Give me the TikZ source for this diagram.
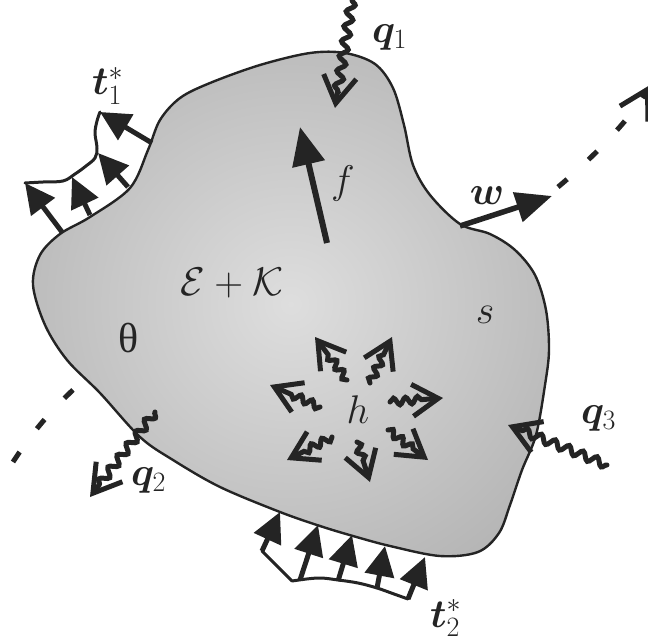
\RequirePackage{fix-cm}
\documentclass[tikz,border=0pt]{standalone}
\usepackage{amsmath}
\usepackage{bm}
\usepackage{fontspec}
\newfontfamily\grkfont{Liberation Serif}
\usetikzlibrary{arrows.meta,decorations.pathmorphing}
\definecolor{blobin}{gray}{0.87}
\definecolor{blobout}{gray}{0.61}
\definecolor{ink}{gray}{0.14}
\pgfdeclareradialshading{blobshade}{\pgfpoint{0bp}{0bp}}{color(0bp)=(blobin); color(50bp)=(blobout); color(75bp)=(blobout)}
\begin{document}
\begin{tikzpicture}[x=1pt,y=-1pt,
  every node/.style={inner sep=0pt, outer sep=0pt, text=ink, font=\fontsize{40}{48}\selectfont},
  tract/.style={draw=ink, line width=5pt, -{Triangle[length=30pt,width=29pt]}},
  bigarrow/.style={draw=ink, line width=6pt, -{Triangle[length=38pt,width=32pt]}},
  loadline/.style={draw=ink, line width=3pt, line join=round, line cap=round},
  heat/.style={draw=ink, line width=5pt, line cap=round, decorate,
     decoration={snake, amplitude=4pt, segment length=15pt, post length=14pt},
     -{Straight Barb[length=27pt,width=33pt]}},
  heatsmall/.style={draw=ink, line width=5pt, line cap=round, decorate,
     decoration={snake, amplitude=3.5pt, segment length=12pt, post length=18pt},
     -{Straight Barb[length=26pt,width=32pt]}},
  axisline/.style={draw=ink, line width=5pt, dash pattern=on 12pt off 29pt},
  ]
\useasboundingbox (0,0) rectangle (648,642);
\clip (0,0) rectangle (648,642);

% dashed axis (behind the body)
\coordinate (da) at (13,462);
\coordinate (db) at (100,365);
\coordinate (dc) at (558,187);
\coordinate (dd) at (650,85);
\draw[axisline] (da) .. controls (35,428) and (55,405) .. (db);
\draw[axisline, -{Straight Barb[length=28pt,width=32pt]}] (dc) .. controls (600,152) and (635,112) .. (dd);

% body
\path[shade, shading=blobshade, draw=ink, line width=2.4pt]
  plot[smooth cycle, tension=0.55] coordinates {
  (33,285) (40,255) (60,234) (90,217) (130,188) (148,150) (160,120) (180,98)
  (210,83) (260,65) (310,53) (345,53) (375,64) (393,88) (404,125) (413,165)
  (430,195) (460,224) (490,234) (515,250) (535,275) (546,310) (549,350)
  (545,385) (536,435) (522,470) (510,505) (499,533) (478,552) (440,556)
  (390,546) (353,536) (320,526) (280,512) (220,487) (173,460) (140,437)
  (100,393) (67,360) (45,325)};

% traction t1
\coordinate (ta1) at (152,143); \coordinate (tb1) at (100,112);
\coordinate (ta2) at (128,187); \coordinate (tb2) at (98,153);
\coordinate (ta3) at (90,215);  \coordinate (tb3) at (72,177);
\coordinate (ta4) at (62,232);  \coordinate (tb4) at (25,183);
\draw[loadline] plot[smooth, tension=0.6] coordinates {(tb4) (43,182) (63,181) (75,174) (86,166) (95,158) (97,148) (95,133) (97,121) (tb1)};
\foreach \i in {1,2,3,4} \draw[tract] (ta\i) -- (tb\i);

% traction t2
\coordinate (sa1) at (262,551); \coordinate (sb1) at (280,512);
\coordinate (sa2) at (300,580); \coordinate (sb2) at (318,525);
\coordinate (sa3) at (338,581); \coordinate (sb3) at (352,535);
\coordinate (sa4) at (377,588); \coordinate (sb4) at (385,546);
\coordinate (sa5) at (408,599); \coordinate (sb5) at (425,557);
\draw[loadline] (sa1) -- (292,581) plot[smooth, tension=0.6] coordinates {(292,581) (318,578) (338,580) (358,583) (377,588) (394,594) (sa5)};
\foreach \i in {1,...,5} \draw[tract] (sa\i) -- (sb\i);

% body force and power
\coordinate (fa) at (327,243); \coordinate (fb) at (300,127);
\draw[bigarrow] (fa) -- (fb);
\coordinate (wa) at (460,226); \coordinate (wb) at (552,196);
\draw[draw=ink, line width=5.5pt, -{Triangle[length=36pt,width=30pt]}] (wa) -- (wb);

% heat fluxes
\coordinate (q1a) at (352,0);   \coordinate (q1b) at (335,108);
\coordinate (q2a) at (155,412); \coordinate (q2b) at (90,497);
\coordinate (q3a) at (607,465); \coordinate (q3b) at (508,425);
\draw[heat] (q1a) -- (q1b);
\draw[heat] (q2a) -- (q2b);
\draw[heat] (q3a) -- (q3b);

% heat sources
\coordinate (h1a) at (347,380); \coordinate (h1b) at (315,337);
\coordinate (h2a) at (370,383); \coordinate (h2b) at (392,337);
\coordinate (h3a) at (320,407); \coordinate (h3b) at (270,385);
\coordinate (h4a) at (390,402); \coordinate (h4b) at (443,398);
\coordinate (h5a) at (332,437); \coordinate (h5b) at (287,460);
\coordinate (h6a) at (357,442); \coordinate (h6b) at (370,482);
\coordinate (h7a) at (388,430); \coordinate (h7b) at (428,460);
\foreach \i in {1,...,7} \draw[heatsmall] (h\i a) -- (h\i b);

% labels
\node[anchor=base west] (lq1) at (372,43) {$\bm{q}_1$};
\node[anchor=base west] (lq2) at (131,485) {$\bm{q}_2$};
\node[anchor=base west] (lq3) at (581,423) {$\bm{q}_3$};
\node[anchor=base west] (lt1) at (92,95) {$\bm{t}^*_1$};
\node[anchor=base west] (lt2) at (430,627) {$\bm{t}^*_2$};
\node (lf) at (343,183) {$f$};
\node (lw) at (487,196) {$\bm{w}$};
\node (lek) at (232,283) {$\mathcal{E}+\mathcal{K}$};
\node (lth) at (129,338) {\grkfont\fontsize{42}{46}\selectfont θ};
\node (ls) at (485,315) {$s$};
\node (lh) at (358,410) {$h$};
\end{tikzpicture}
\end{document}
